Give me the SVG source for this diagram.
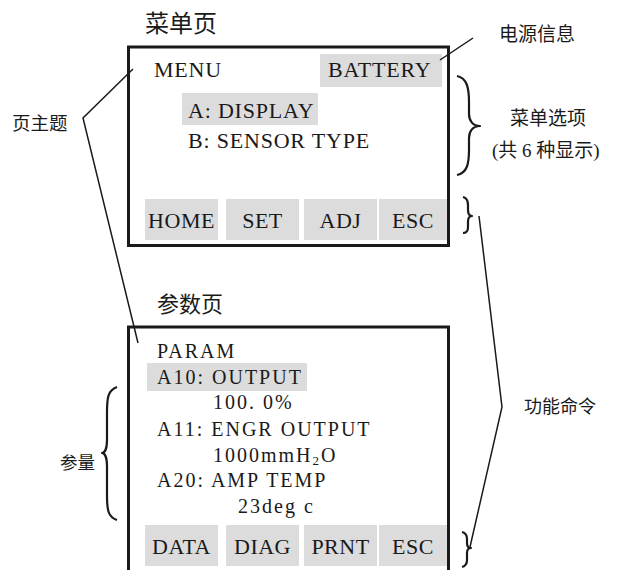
<svg xmlns="http://www.w3.org/2000/svg" width="623" height="570" viewBox="0 0 623 570">
<style>
.frame{fill:none;stroke:#1a1a1a;stroke-width:3}
.hl{fill:#dcdcdc}
.lcd{font-size:22px;fill:#1a1a1a;letter-spacing:0.8px}
.lcd2{font-size:20px;fill:#1a1a1a;letter-spacing:2px}
.btn{font-size:22px;fill:#1a1a1a;text-anchor:middle;letter-spacing:0.5px}
.cn{font-family:'Noto Sans CJK SC',sans-serif;fill:#1a1a1a}
.mix{fill:#1a1a1a}
.ln{fill:none;stroke:#1a1a1a;stroke-width:1.5}
.brace{fill:none;stroke:#1a1a1a;stroke-width:2.2;stroke-linejoin:round}
</style>
<rect width="623" height="570" fill="#ffffff"/>

<g id="menu-page" font-family="Liberation Serif, DejaVu Serif, Times New Roman, serif">
  <text class="cn" x="145" y="32" font-size="24">菜单页</text>
  <rect class="frame" x="128.5" y="47" width="320" height="198.5"/>
  <text class="lcd" x="154" y="77">MENU</text>
  <rect class="hl" x="320" y="54" width="122" height="33"/>
  <text class="lcd" x="328" y="77">BATTERY</text>
  <rect class="hl" x="182" y="93" width="136" height="32"/>
  <text class="lcd" x="188" y="118">A: DISPLAY</text>
  <text class="lcd" x="188" y="148">B: SENSOR TYPE</text>
  <rect class="hl" x="145" y="199" width="73" height="41"/>
  <rect class="hl" x="226" y="199" width="73" height="41"/>
  <rect class="hl" x="304" y="199" width="73" height="41"/>
  <rect class="hl" x="379" y="199" width="68" height="41"/>
  <text class="btn" x="181.5" y="228">HOME</text>
  <text class="btn" x="262.5" y="228">SET</text>
  <text class="btn" x="340.5" y="228">ADJ</text>
  <text class="btn" x="413" y="228">ESC</text>
</g>

<g id="param-page" font-family="Liberation Serif, DejaVu Serif, Times New Roman, serif">
  <text class="cn" x="157" y="312" font-size="22">参数页</text>
  <path class="frame" d="M128.5,580 L128.5,327 L448.5,327 L448.5,580"/>
  <text class="lcd2" x="157" y="358">PARAM</text>
  <rect class="hl" x="147" y="363" width="160" height="28"/>
  <text class="lcd2" x="157" y="384">A10: OUTPUT</text>
  <text class="lcd2" x="213" y="409">100. 0%</text>
  <text class="lcd2" x="157" y="436">A11: ENGR OUTPUT</text>
  <text class="lcd2" x="213" y="462">1000mmH<tspan font-size="13" dy="3">2</tspan><tspan dy="-3">O</tspan></text>
  <text class="lcd2" x="157" y="487">A20: AMP TEMP</text>
  <text class="lcd2" x="238" y="513">23deg c</text>
  <rect class="hl" x="145" y="525" width="73" height="41"/>
  <rect class="hl" x="226" y="525" width="73" height="41"/>
  <rect class="hl" x="304" y="525" width="73" height="41"/>
  <rect class="hl" x="379" y="525" width="68" height="41"/>
  <text class="btn" x="181.5" y="554">DATA</text>
  <text class="btn" x="262.5" y="554">DIAG</text>
  <text class="btn" x="340.5" y="554">PRNT</text>
  <text class="btn" x="413" y="554">ESC</text>
</g>

<g id="label-title">
  <text class="cn" x="12" y="130" font-size="18.5">页主题</text>
</g>
<g id="label-power">
  <text class="cn" x="499" y="41" font-size="19">电源信息</text>
</g>
<g id="label-options">
  <text class="cn" x="510" y="125" font-size="19">菜单选项</text>
  <text class="mix" x="492" y="157" font-size="19" font-family="Liberation Serif, DejaVu Serif, Noto Sans CJK SC, serif">(共 6 种显示)</text>
</g>
<g id="label-func">
  <text class="cn" x="524" y="413" font-size="18">功能命令</text>
</g>
<g id="label-param">
  <text class="cn" x="60" y="469" font-size="17.5">参量</text>
</g>

<g id="connectors">
  <path class="ln" d="M133,69 L83,118 L138,343"/>
  <path class="ln" d="M440,60 L473,38"/>
  <path class="ln" d="M479,216 L502,407 L470,547"/>
  <path class="brace" d="M457,76 C467,78 469,88 469,102 L469,114 C469,121 473,126 480,126 C473,126 469,131 469,138 L469,150 C469,164 467,173 457,175"/>
  <path class="brace" d="M463,197 C467,198 468,201 468,205 L468,210 C468,213 469,216 472,216 C469,216 468,219 468,222 L468,227 C468,231 467,233 463,233"/>
  <path class="brace" d="M462,532 C466,533 467,536 467,539 L467,543 C467,546 468,548 471,548 C468,548 467,550 467,553 L467,560 C467,564 466,566 462,567"/>
  <path class="brace" d="M117,387 C108,390 107,398 107,412 L107,440 C107,448 105,453 102,453 C105,453 107,458 107,466 L107,495 C107,510 108,517 117,520"/>
</g>
</svg>
